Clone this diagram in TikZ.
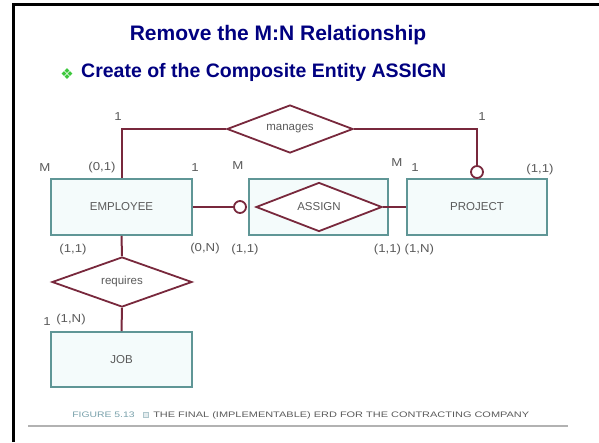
\documentclass[tikz,border=0pt]{standalone}
\usepackage{fontspec}
\setmainfont{Liberation Sans}
\newfontfamily\symfont{DejaVu Sans}
\usepackage{tikz}
\usetikzlibrary{shapes.geometric,positioning}

\definecolor{navy}{RGB}{0,0,128}
\definecolor{boxline}{RGB}{95,150,150}
\definecolor{boxfill}{RGB}{244,251,251}
\definecolor{relline}{RGB}{120,40,60}
\definecolor{labelgray}{RGB}{90,90,90}
\definecolor{bulletgreen}{RGB}{60,200,60}
\definecolor{captionteal}{RGB}{120,160,170}

\tikzset{
	entity/.style={draw=boxline,fill=boxfill,line width=1.6pt,inner sep=0pt,
		minimum height=56pt,font=\fontsize{11.5}{12}\selectfont,text=labelgray},
	relation/.style={diamond,aspect=2.6,draw=relline,fill=white,line width=1.8pt,inner sep=0pt,
		font=\fontsize{11.5}{12}\selectfont,text=labelgray},
	rel/.style={draw=relline,line width=2pt},
	optional/.style={circle,draw=relline,fill=white,line width=1.8pt,minimum size=12pt,inner sep=0pt},
	card/.style={font=\fontsize{11.5}{13}\selectfont,text=labelgray,inner sep=0pt,xscale=1.15}
}

\begin{document}
\begin{tikzpicture}[x=1pt,y=-1pt]

	\useasboundingbox (0,0) rectangle (599,442);

	\draw[line width=3pt] (13,442) -- (13,4) -- (599,4);

	\node[font=\bfseries\fontsize{21}{24}\selectfont,text=navy] (title) at (278,35) {Remove the M:N Relationship};
	\node[font=\symfont\fontsize{15}{16}\selectfont,text=bulletgreen] (bullet) at (67,74) {❖};
	\node[font=\bfseries\fontsize{19.5}{22}\selectfont,text=navy,anchor=west,inner sep=0pt] (sub) at (81,72) {Create of the Composite Entity ASSIGN};

	\node[entity,minimum width=141pt] (emp) at (121.5,207) {EMPLOYEE};
	\node[entity,minimum width=139pt] (asgbox) at (318.5,207) {};
	\node[entity,minimum width=140pt] (proj) at (477,207) {PROJECT};
	\node[entity,minimum width=141pt,minimum height=55pt] (job) at (121.5,359.5) {JOB};

	\node[relation,minimum width=126pt,minimum height=48pt] (man) at (290,129) {manages};
	\node[relation,minimum width=126pt,minimum height=49pt] (asg) at (319,207) {ASSIGN};
	\node[relation,minimum width=140pt,minimum height=50pt] (req) at (122,282) {requires};

	\node[optional] (acirc) at (240,207) {};
	\node[optional] (pcirc) at (477,172) {};

	\draw[rel] (emp.north) |- (man.west);
	\draw[rel] (man.east) -| (pcirc.north);
	\draw[rel] (emp.east) -- (acirc.west);
	\draw[rel] (asg.east) -- (proj.west);
	\draw[rel] (emp.south) -- (req.north);
	\draw[rel] (req.south) -- (job.north);

	\node[card] (c1) at (118,117) {1};
	\node[card] (c2) at (45,168) {M};
	\node[card] (c3) at (102,168) {(0,1)};
	\node[card] (c4) at (195,168) {1};
	\node[card] (c5) at (238,166) {M};
	\node[card] (c6) at (73,250) {(1,1)};
	\node[card] (c7) at (205,249) {(0,N)};
	\node[card] (c8) at (245,250) {(1,1)};
	\node[card] (c9) at (397,163) {M};
	\node[card] (c10) at (415,168) {1};
	\node[card] (c11) at (482,117) {1};
	\node[card] (c12) at (540,170) {(1,1)};
	\node[card] (c13) at (404,250) {(1,1) (1,N)};
	\node[card] (c14) at (47,322) {1};
	\node[card] (c15) at (71,320) {(1,N)};

	\node[font=\fontsize{8}{9}\selectfont,text=captionteal,anchor=west,inner sep=0pt,xscale=1.3] (fig) at (72,415) {FIGURE 5.13};
	\node[draw=captionteal!60,fill=captionteal!20,minimum size=5pt,inner sep=0pt] (sq) at (146,415) {};
	\node[font=\fontsize{8}{9}\selectfont,text=labelgray,anchor=west,inner sep=0pt,xscale=1.37] (cap) at (153,415) {THE FINAL (IMPLEMENTABLE) ERD FOR THE CONTRACTING COMPANY};
	\draw[line width=1.5pt,gray!60] (28,426) -- (568,426);

\end{tikzpicture}
\end{document}
